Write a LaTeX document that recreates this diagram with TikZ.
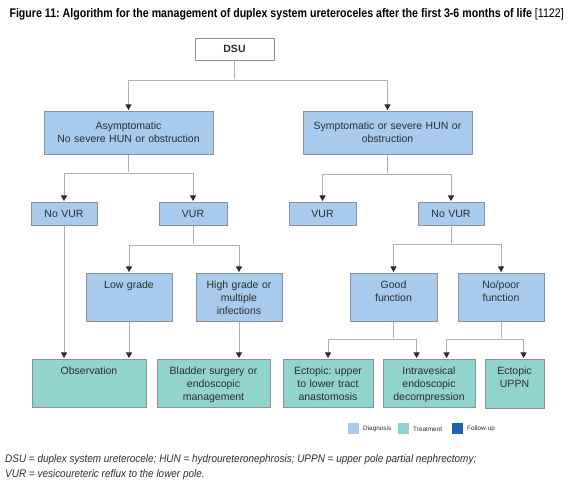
\documentclass[tikz,border=0pt]{standalone}
\usepackage{fontspec}
\setmainfont{Liberation Sans}
\newfontfamily\titlefont[FakeStretch=0.85]{Liberation Sans}
\newfontfamily\notefont[FakeStretch=0.905]{Liberation Sans}
\usetikzlibrary{arrows.meta}
\definecolor{diag}{HTML}{A8CAEC}
\definecolor{treat}{HTML}{90D3CF}
\definecolor{follow}{HTML}{1F63AD}
\definecolor{boxline}{HTML}{8C9298}
\definecolor{linec}{HTML}{B0B0B0}
\definecolor{tipc}{HTML}{2B2B2B}
\definecolor{txt}{HTML}{2E2E2E}
\frenchspacing
\begin{document}
\begin{tikzpicture}[x=1pt,y=-1pt,shorten >=1pt]
        \tikzstyle{box}=[draw=boxline,line width=0.8pt,anchor=north,align=center,inner xsep=3pt,inner ysep=0pt,text=txt,font=\fontsize{10.5}{13}\selectfont,text height=15.5pt]
        \tikzstyle{small}=[box,text depth=7.5pt]
        \tikzstyle{wide}=[box,text height=18.5pt,text depth=24.5pt]
        \tikzstyle{tall}=[box,text depth=32.5pt]
        \tikzstyle{edge}=[draw=linec,line width=0.9pt,-{Triangle[width=6pt,length=5.5pt,color=tipc]}]
        \tikzstyle{legsq}=[minimum size=11pt,inner sep=0pt]
        \useasboundingbox (0,0) rectangle (574,486);
       \begin{scope}
         \node [anchor=west,text=black] (title) at (6,14) {\titlefont\fontsize{12.5}{14}\selectfont\textbf{Figure 11: Algorithm for the management of duplex system ureteroceles after the first 3-6 months of life} [1122]};

         \node [small,fill=white,text height=14.5pt,text width=73pt] (dsu) at (234.5,38) {\textbf{DSU}};

         \node [wide,fill=diag,text width=163pt] (asym) at (128.5,111) {Asymptomatic\\No severe HUN or obstruction};
         \node [wide,fill=diag,text width=163pt] (symp) at (387.5,111) {Symptomatic or severe HUN or\\obstruction};

         \node [small,fill=diag,text width=60pt] (novurl) at (64,202) {No VUR};
         \node [small,fill=diag,text width=62pt] (vurl) at (193,202) {VUR};
         \node [small,fill=diag,text width=61pt] (vurr) at (322.5,202) {VUR};
         \node [small,fill=diag,text width=60pt] (novurr) at (451,202) {No VUR};

         \node [tall,fill=diag,text width=80pt] (low) at (129,273) {Low grade};
         \node [tall,fill=diag,text width=80pt] (high) at (239,273) {High grade or\\multiple\\infections};
         \node [tall,fill=diag,text width=81pt] (good) at (393.5,273) {Good\\function};
         \node [tall,fill=diag,text width=80pt] (poor) at (501,273) {No/poor\\function};

         \node [tall,fill=treat,text width=108pt] (obs) at (89,359) {Observation};
         \node [tall,fill=treat,text width=107pt] (bladder) at (213.5,359) {Bladder surgery or\\endoscopic\\management};
         \node [tall,fill=treat,text width=84pt] (ectopic) at (328,359) {Ectopic: upper\\to lower tract\\anastomosis};
         \node [tall,fill=treat,text width=86pt] (intra) at (429,359) {Intravesical\\endoscopic\\decompression};
         \node [tall,fill=treat,text width=53pt,text depth=33.5pt] (uppn) at (514.5,359) {Ectopic\\UPPN};

         % junctions
         \coordinate (j1) at (234.5,80);
         \coordinate (j2) at (128.5,173);
         \coordinate (j3) at (387.5,174);
         \coordinate (j4) at (193,245);
         \coordinate (j5) at (451,244);
         \coordinate (j6) at (393.5,339);
         \coordinate (j7) at (501,339);

         \path[edge,-] (dsu) -- (j1);
         \path[edge] (j1) -| (asym.north);
         \path[edge] (j1) -| (symp.north);

         \path[edge,-] (asym) -- (j2);
         \path[edge] (j2) -| (novurl.north);
         \path[edge] (j2) -| (vurl.north);

         \path[edge,-] (symp) -- (j3);
         \path[edge] (j3) -| (vurr.north);
         \path[edge] (j3) -| (novurr.north);

         \path[edge,-] (vurl) -- (j4);
         \path[edge] (j4) -| (low.north);
         \path[edge] (j4) -| (high.north);

         \path[edge,-] (novurr) -- (j5);
         \path[edge] (j5) -| (good.north);
         \path[edge] (j5) -| (poor.north);

         \path[edge] (novurl) -- (novurl.south |- obs.north);
         \path[edge] (low) -- (low.south |- obs.north);
         \path[edge] (high) -- (high.south |- bladder.north);

         \path[edge,-] (good) -- (j6);
         \path[edge] (j6) -| (ectopic.north);
         \path[edge] (j6) -| ([xshift=34pt]intra.north west);

         \path[edge,-] (poor) -- (j7);
         \path[edge] (j7) -| ([xshift=64pt]intra.north west);
         \path[edge] (j7) -| ([xshift=39pt]uppn.north west);

         % legend
         \node [legsq,fill=diag] (legd) at (353.5,429) {};
         \node [anchor=west,inner sep=0pt,font=\fontsize{6.4}{7}\selectfont,text=txt] (legdt) at (363,429) {Diagnosis};
         \node [legsq,fill=treat] (legt) at (403.5,429) {};
         \node [anchor=west,inner sep=0pt,font=\fontsize{6.4}{7}\selectfont,text=txt] (legtt) at (413,429) {Treatment};
         \node [legsq,fill=follow] (legf) at (457.5,429) {};
         \node [anchor=west,inner sep=0pt,font=\fontsize{6.4}{7}\selectfont,text=txt] (legft) at (467,429) {Follow-up};

         \node [anchor=west,inner sep=0pt,text=txt] (note1) at (5,460) {\notefont\itshape\fontsize{11}{13}\selectfont DSU = duplex system ureterocele; HUN = hydroureteronephrosis; UPPN = upper pole partial nephrectomy;};
         \node [anchor=west,inner sep=0pt,text=txt] (note2) at (5,475) {\notefont\itshape\fontsize{11}{13}\selectfont VUR = vesicoureteric reflux to the lower pole.};
        \end{scope}
      \end{tikzpicture}
\end{document}
